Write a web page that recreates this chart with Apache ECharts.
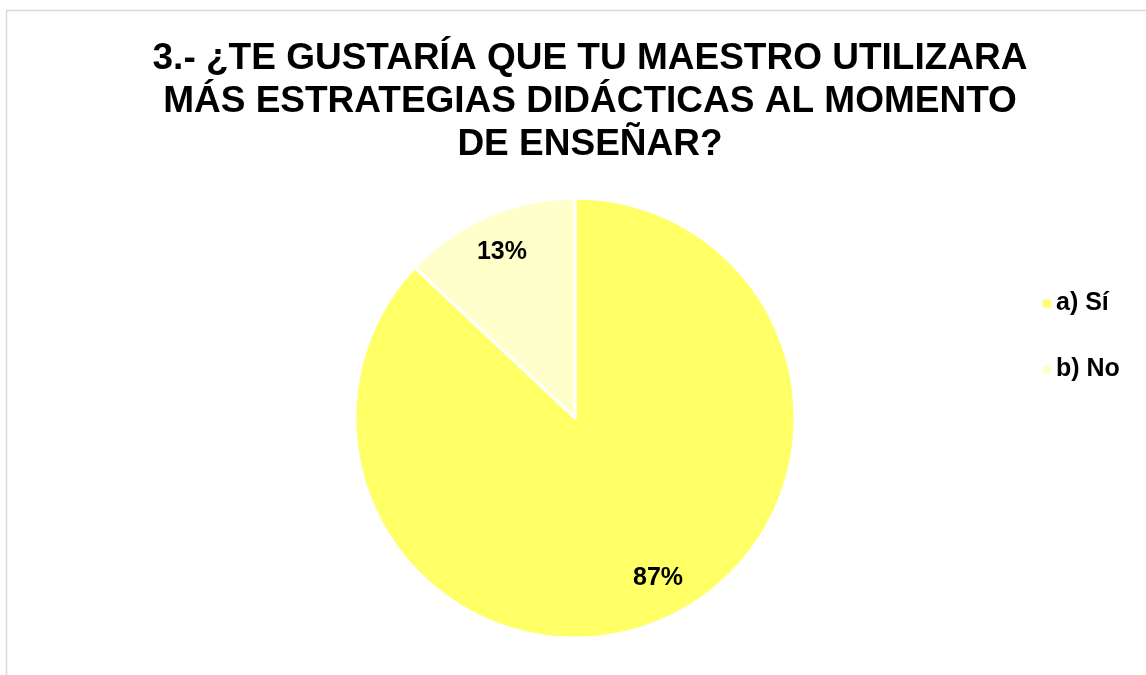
<!DOCTYPE html>
<html>
<head>
    <meta charset="utf-8">
    <title>Estrategias didácticas</title>
    <script src="https://cdn.jsdelivr.net/npm/echarts@6/dist/echarts.min.js"></script>
    <style type="text/css">
        html, body { margin: 0; padding: 0; background: #fff; }
        #chart { width: 1146px; height: 675px; }
    </style>
</head>
<body>
    <div id="chart"></div>
    <script type="text/javascript">
        var categories = ['a) Sí', 'b) No'];
        var values = [87, 13];
        var colors = ['#FFFF66', '#FFFFCC'];

        var pieData = [];
        for (var i = 0; i < categories.length; i++) {
            pieData.push({ name: categories[i], value: values[i] });
        }

        var chart = echarts.init(document.getElementById('chart'));

        var option = {
            backgroundColor: '#fff',
            color: colors,
            title: {
                text: '3.- ¿TE GUSTARÍA QUE TU MAESTRO UTILIZARA\nMÁS ESTRATEGIAS DIDÁCTICAS AL MOMENTO\nDE ENSEÑAR?',
                left: 585,
                top: 32,
                textAlign: 'center',
                textStyle: {
                    fontFamily: 'Liberation Sans, Arial, sans-serif',
                    fontWeight: 'bold',
                    fontSize: 37,
                    lineHeight: 43,
                    color: '#000'
                }
            },
            legend: {
                orient: 'vertical',
                left: 1038,
                top: 286,
                itemWidth: 8,
                itemHeight: 8,
                itemGap: 41,
                icon: 'rect',
                data: categories,
                itemStyle: { borderWidth: 0 },
                textStyle: {
                    fontFamily: 'Liberation Sans, Arial, sans-serif',
                    fontWeight: 'bold',
                    fontSize: 25,
                    color: '#000'
                }
            },
            graphic: [{
                type: 'rect',
                shape: { x: 6.5, y: 10.5, width: 1200, height: 700 },
                style: { fill: 'none', stroke: '#d9d9d9', lineWidth: 1.5 },
                silent: true
            }],
            series: [
                {
                    type: 'pie',
                    center: [575, 418],
                    radius: [0, 220],
                    startAngle: 90,
                    clockwise: true,
                    animation: false,
                    data: pieData,
                    itemStyle: { borderColor: '#fff', borderWidth: 3 },
                    label: { show: false },
                    labelLine: { show: false },
                    emphasis: { disabled: true }
                },
                {
                    // invisible ring used only to place the percent labels
                    type: 'pie',
                    center: [575, 418],
                    radius: [0, 362],
                    startAngle: 90,
                    clockwise: true,
                    animation: false,
                    silent: true,
                    data: pieData,
                    itemStyle: { color: 'rgba(0,0,0,0)' },
                    label: {
                        show: true,
                        position: 'inside',
                        formatter: '{d}%',
                        fontFamily: 'Liberation Sans, Arial, sans-serif',
                        fontWeight: 'bold',
                        fontSize: 25,
                        color: '#000'
                    },
                    labelLayout: function (params) {
                        return params.dataIndex === 0 ? { dx: 10, dy: -9 } : { dy: 3 };
                    },
                    labelLine: { show: false },
                    emphasis: { disabled: true }
                }
            ]
        };
        chart.setOption(option);
    </script>
</body>
</html>
